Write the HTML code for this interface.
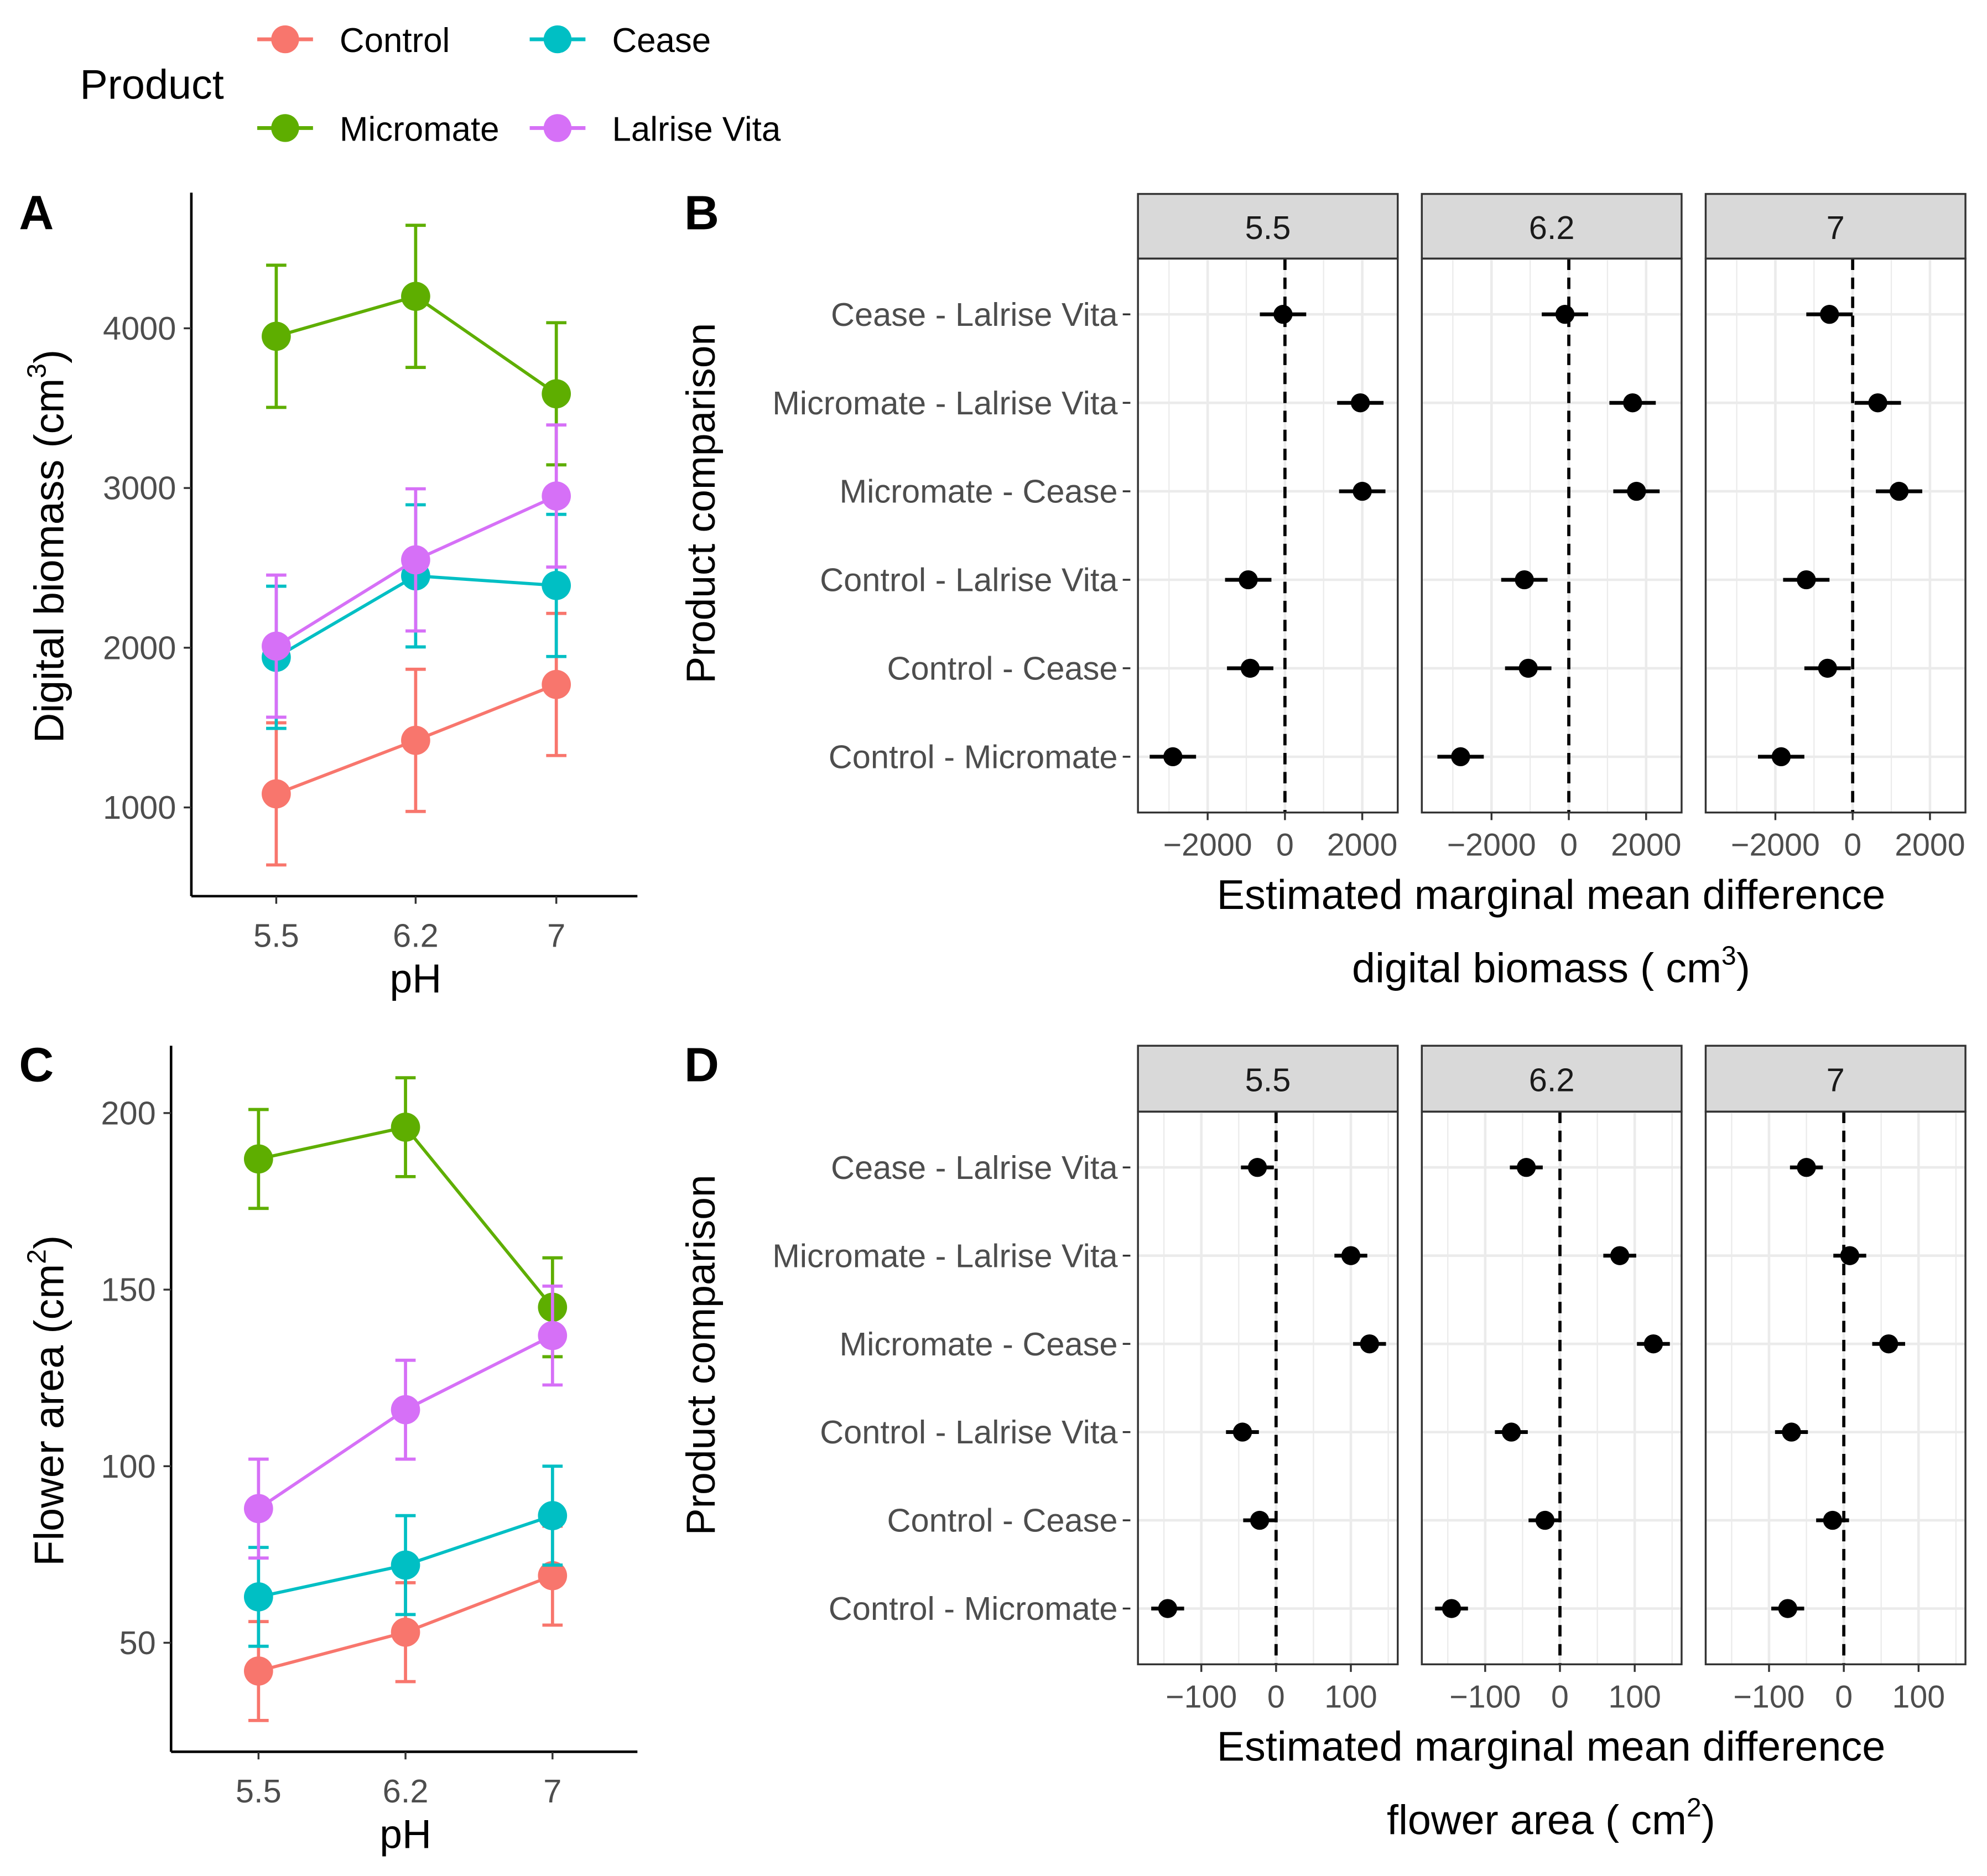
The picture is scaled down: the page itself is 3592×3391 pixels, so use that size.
<!DOCTYPE html>
<html><head><meta charset="utf-8"><style>
html,body{margin:0;padding:0;background:#fff;}
svg{display:block;font-family:"Liberation Sans",sans-serif;}
</style></head><body>
<svg id="fig" width="3592" height="3391" viewBox="0 0 1568 1480" preserveAspectRatio="none" xmlns="http://www.w3.org/2000/svg"></svg>
<script>
const products = ["Control","Micromate","Cease","Lalrise Vita"];
const colors = ["#F8766D","#5EAE00","#00BFC4","#D670F7"];
const phLevels = ["5.5","6.2","7"];
// Panel A: digital biomass means and error
const biomassControl = [1085, 1420, 1770];
const biomassMicromate = [3950, 4200, 3590];
const biomassCease = [1940, 2450, 2390];
const biomassLalrise = [2010, 2550, 2950];
const biomassErr = [445, 445, 445];
const biomassTicks = [1000, 2000, 3000, 4000];
// Panel C: flower area
const flowerControl = [42, 53, 69];
const flowerMicromate = [187, 196, 145];
const flowerCease = [63, 72, 86];
const flowerLalrise = [88, 116, 137];
const flowerErr = [14, 14, 14];
const flowerTicks = [50, 100, 150, 200];
// Panels B/D
const comparisons = ["Cease - Lalrise Vita","Micromate - Lalrise Vita","Micromate - Cease","Control - Lalrise Vita","Control - Cease","Control - Micromate"];
const diffB55 = [-50, 1950, 2000, -950, -900, -2900];
const diffB62 = [-100, 1650, 1750, -1150, -1050, -2800];
const diffB70 = [-600, 650, 1200, -1200, -650, -1850];
const ciB = 600;
const ticksB = [-2000, 0, 2000];
const diffD55 = [-25, 100, 125, -45, -22, -145];
const diffD62 = [-45, 80, 125, -65, -20, -145];
const diffD70 = [-50, 8, 60, -70, -15, -75];
const ciD = 22;
const ticksD = [-100, 0, 100];

const svg = document.getElementById('fig');
const NS = "http://www.w3.org/2000/svg";
function el(tag, attrs, parent, text){
  const e = document.createElementNS(NS, tag);
  for (const k in attrs) e.setAttribute(k, attrs[k]);
  if (text !== undefined) e.textContent = text;
  (parent || svg).appendChild(e);
  return e;
}

// Legend
const leg = el('g', {});


const lt = el('text', {x:63, y:78, 'font-size':33, fill:'#000'}, leg, 'Product');


const legPos = [[225,31],[225,101],[440,31],[440,101]];
products.forEach((p,i)=>{
  const g = el('g', {}, leg);
  
  
  const [cx,cy] = legPos[i];
  el('line', {x1:cx-22, x2:cx+22, y1:cy, y2:cy, stroke:colors[i], 'stroke-width':3}, g);
  el('circle', {cx:cx, cy:cy, r:11, fill:colors[i]}, g);
  el('text', {x:cx+43, y:cy+10, 'font-size':27, fill:'#000'}, g, p);
});

function linePanel(opt){
  const g = el('g', {});
  
  
  const yS = v => opt.y0 + (v - opt.v0) * opt.k;
  const xS = i => opt.xs[i];
  el('line', {x1:opt.axX, x2:opt.axX, y1:opt.top, y2:opt.bot, stroke:'#000', 'stroke-width':2}, g);
  el('line', {x1:opt.axX, x2:503, y1:opt.bot, y2:opt.bot, stroke:'#000', 'stroke-width':2}, g);
  opt.ticks.forEach(t=>{
    const y = yS(t);
    el('line', {x1:opt.axX-6, x2:opt.axX, y1:y, y2:y, stroke:'#333', 'stroke-width':1.5}, g);
    const tx = el('text', {x:opt.axX-12, y:y+9, 'font-size':26, fill:'#4d4d4d', 'text-anchor':'end'}, g, t);
    
    
  });
  phLevels.forEach((p,i)=>{
    el('line', {x1:xS(i), x2:xS(i), y1:opt.bot, y2:opt.bot+6, stroke:'#333', 'stroke-width':1.5}, g);
    const tx = el('text', {x:xS(i), y:opt.bot+40, 'font-size':26, fill:'#4d4d4d', 'text-anchor':'middle'}, g, p);
    
    
  });
  const xt = el('text', {x:xS(1), y:opt.bot+76, 'font-size':32, fill:'#000', 'text-anchor':'middle'}, g, 'pH');
  
  
  const yt = el('text', {x:0, y:0, 'font-size':33, fill:'#000', 'text-anchor':'middle', transform:`translate(${opt.titleX},${opt.titleY}) rotate(-90)`}, g);
  
  
  el('tspan', {}, yt, opt.title + ' (cm');
  el('tspan', {dy:-14, 'font-size':21}, yt, opt.sup);
  el('tspan', {dy:14}, yt, ')');
  opt.series.forEach((vals,si)=>{
    const sg = el('g', {}, g);
    
    
    const c = colors[si];
    vals.forEach((v,i)=>{
      const e = opt.err[i];
      const x = xS(i);
      el('line', {x1:x, x2:x, y1:yS(v-e), y2:yS(v+e), stroke:c, 'stroke-width':2.5}, sg);
      el('line', {x1:x-8, x2:x+8, y1:yS(v-e), y2:yS(v-e), stroke:c, 'stroke-width':2.5}, sg);
      el('line', {x1:x-8, x2:x+8, y1:yS(v+e), y2:yS(v+e), stroke:c, 'stroke-width':2.5}, sg);
    });
    const pts = vals.map((v,i)=>xS(i)+','+yS(v)).join(' ');
    el('polyline', {points:pts, fill:'none', stroke:c, 'stroke-width':2.5}, sg);
    vals.forEach((v,i)=>{
      const pt = el('circle', {cx:xS(i), cy:yS(v), r:11.5, fill:c}, sg);
      
      
    });
  });
}

linePanel({name:'panel-a', axX:151, top:152, bot:707, xs:[218,328,439], y0:637, v0:1000, k:-0.126,
  ticks:biomassTicks, title:'Digital biomass', sup:'3', titleX:50, titleY:431,
  series:[biomassControl, biomassMicromate, biomassCease, biomassLalrise], err:biomassErr});
linePanel({name:'panel-c', axX:135, top:825, bot:1382, xs:[204,320,436], y0:1296, v0:50, k:-139.3/50,
  ticks:flowerTicks, title:'Flower area', sup:'2', titleX:50, titleY:1105,
  series:[flowerControl, flowerMicromate, flowerCease, flowerLalrise], err:flowerErr});

function facetPanel(opt){
  const g = el('g', {});
  
  
  const lefts = [898, 1122, 1346];
  const W = 205;
  const rowY = i => opt.top + 44 + i * ((opt.bot - opt.top - 88) / 5);
  comparisons.forEach((c,i)=>{
    const t = el('text', {x:882, y:rowY(i)+9, 'font-size':26, fill:'#4d4d4d', 'text-anchor':'end'}, g, c);
    
    
    el('line', {x1:886, x2:892, y1:rowY(i), y2:rowY(i), stroke:'#333', 'stroke-width':1.5}, g);
  });
  const yt = el('text', {x:0, y:0, 'font-size':32, fill:'#000', 'text-anchor':'middle', transform:`translate(564,${(opt.stripTop+opt.bot)/2}) rotate(-90)`}, g, 'Product comparison');
  
  
  opt.data.forEach((vals,fi)=>{
    const L = lefts[fi];
    const z = L + opt.zeroOff;
    const xS = v => z + v * opt.k;
    const fg = el('g', {}, g);
    
    
    el('rect', {x:L, y:opt.stripTop, width:W, height:opt.top-opt.stripTop, fill:'#d9d9d9', stroke:'#333', 'stroke-width':1.5}, fg);
    el('text', {x:L+W/2, y:(opt.stripTop+opt.top)/2+10, 'font-size':26, fill:'#1a1a1a', 'text-anchor':'middle'}, fg, phLevels[fi]);
    const step = opt.ticks[2] - opt.ticks[1];
    for (let v = -4*step; v <= 4*step; v += step/2){
      const x = xS(v);
      if (x <= L || x >= L+W) continue;
      el('line', {x1:x, x2:x, y1:opt.top, y2:opt.bot, stroke:'#ebebeb', 'stroke-width': (v % step === 0) ? 2 : 1}, fg);
    }
    comparisons.forEach((c,i)=>{
      el('line', {x1:L, x2:L+W, y1:rowY(i), y2:rowY(i), stroke:'#ebebeb', 'stroke-width':2}, fg);
    });
    el('line', {x1:z, x2:z, y1:opt.top, y2:opt.bot, stroke:'#000', 'stroke-width':2.5, 'stroke-dasharray':'9,6'}, fg);
    vals.forEach((v,i)=>{
      el('line', {x1:xS(v-opt.ci), x2:xS(v+opt.ci), y1:rowY(i), y2:rowY(i), stroke:'#000', 'stroke-width':3}, fg);
      const pt = el('circle', {cx:xS(v), cy:rowY(i), r:7.5, fill:'#000'}, fg);
      
      
    });
    el('rect', {x:L, y:opt.top, width:W, height:opt.bot-opt.top, fill:'none', stroke:'#333', 'stroke-width':1.5}, fg);
    opt.ticks.forEach(t=>{
      const x = xS(t);
      el('line', {x1:x, x2:x, y1:opt.bot, y2:opt.bot+6, stroke:'#333', 'stroke-width':1.5}, fg);
      const tx = el('text', {x:x, y:opt.bot+34, 'font-size':25, fill:'#4d4d4d', 'text-anchor':'middle'}, fg, t < 0 ? '\u2212' + (-t) : String(t));
      
      
    });
  });
  const xt = el('text', {x:1224, y:opt.bot+76, 'font-size':33, fill:'#000', 'text-anchor':'middle'}, g, 'Estimated marginal mean difference');
  
  
  const xt2 = el('text', {x:1224, y:opt.bot+134, 'font-size':33, fill:'#000', 'text-anchor':'middle'}, g);
  
  
  el('tspan', {}, xt2, opt.sub + ' ( cm');
  el('tspan', {dy:-14, 'font-size':21}, xt2, opt.sup);
  el('tspan', {dy:14}, xt2, ')');
}

facetPanel({name:'panel-b', stripTop:153, top:204, bot:641, zeroOff:116, k:61/2000, ci:ciB, ticks:ticksB,
  data:[diffB55, diffB62, diffB70], sub:'digital biomass', sup:'3'});
facetPanel({name:'panel-d', stripTop:825, top:877, bot:1313, zeroOff:109, k:59/100, ci:ciD, ticks:ticksD,
  data:[diffD55, diffD62, diffD70], sub:'flower area', sup:'2'});

[['A',15,181],['B',540,181],['C',15,853],['D',540,853]].forEach(([l,x,y])=>{
  const t = el('text', {x:x, y:y, 'font-size':38, 'font-weight':'bold', fill:'#000'}, svg, l);
  
  
});
</script>
</body></html>
